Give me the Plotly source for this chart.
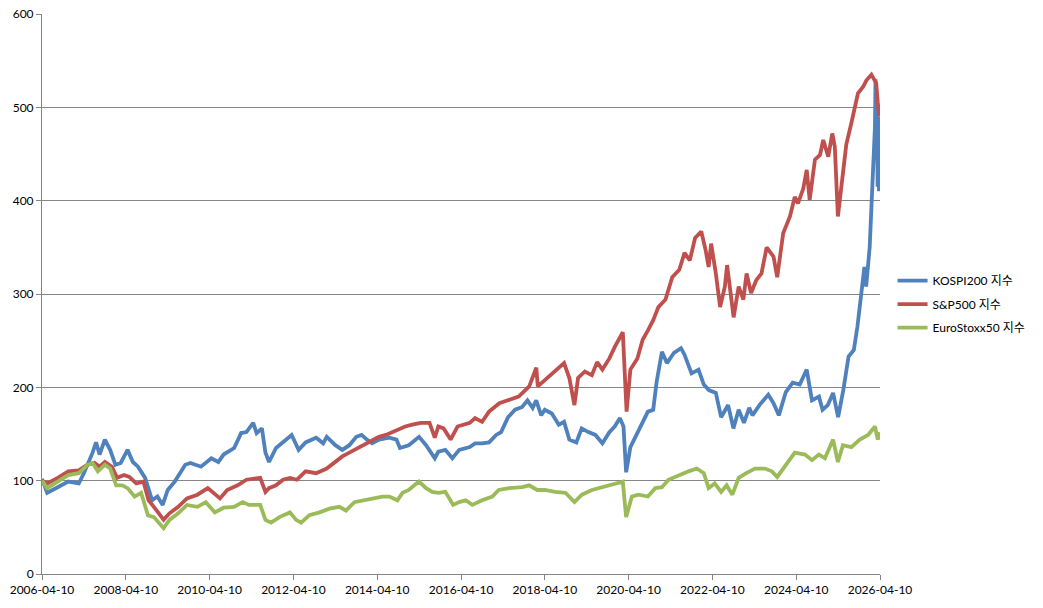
import plotly.graph_objects as go

kospi_dates = ["2006-04-10","2006-05-25","2006-08-25","2006-11-25","2007-02-25","2007-04-10","2007-06-25","2007-07-25","2007-08-25","2007-10-10","2007-11-25","2008-01-10","2008-02-25","2008-04-25","2008-06-10","2008-07-25","2008-09-25","2008-11-10","2008-11-25","2009-01-10","2009-02-25","2009-04-10","2009-06-10","2009-09-10","2009-10-25","2010-01-25","2010-04-25","2010-06-25","2010-08-10","2010-11-10","2011-01-10","2011-02-25","2011-04-25","2011-05-25","2011-07-10","2011-08-10","2011-09-10","2011-11-10","2012-01-10","2012-03-25","2012-05-25","2012-07-25","2012-10-25","2012-12-25","2013-01-25","2013-04-10","2013-06-10","2013-08-10","2013-10-10","2013-11-25","2014-01-10","2014-02-25","2014-04-25","2014-07-25","2014-09-25","2014-10-25","2015-01-10","2015-04-10","2015-06-10","2015-08-25","2015-09-25","2015-11-25","2016-01-25","2016-03-25","2016-06-25","2016-08-10","2016-10-10","2016-12-10","2017-02-10","2017-03-25","2017-05-25","2017-07-25","2017-09-25","2017-11-10","2017-12-25","2018-01-25","2018-03-10","2018-04-10","2018-06-10","2018-08-10","2018-09-25","2018-11-10","2019-01-10","2019-02-25","2019-04-25","2019-06-25","2019-08-25","2019-10-25","2019-12-10","2020-01-25","2020-02-25","2020-03-19","2020-04-25","2020-06-25","2020-08-10","2020-09-25","2020-11-10","2020-12-10","2021-01-25","2021-03-10","2021-05-10","2021-07-10","2021-08-10","2021-10-10","2021-12-10","2022-01-25","2022-03-10","2022-05-10","2022-06-25","2022-08-25","2022-10-10","2022-11-25","2023-01-10","2023-02-25","2023-03-25","2023-05-25","2023-08-10","2023-09-25","2023-11-10","2024-01-10","2024-03-10","2024-05-10","2024-07-10","2024-08-25","2024-10-25","2024-11-25","2025-01-10","2025-02-25","2025-04-10","2025-05-25","2025-07-10","2025-08-25","2025-09-25","2025-10-25","2025-11-25","2025-12-10","2026-01-10","2026-01-28","2026-02-25","2026-03-02","2026-03-08","2026-03-14","2026-03-20","2026-03-26","2026-04-01","2026-04-06"]
kospi_vals = [102,87,93,99,97,108,130,141,128,144,133,117,119,133,120,115,103,83,79,83,74,90,99,117,119,115,124,120,128,135,151,152,162,151,156,130,120,135,141,149,133,141,146,140,147,138,133,138,147,149,144,140,144,146,144,135,138,147,138,124,131,133,124,133,136,140,140,141,149,152,168,176,179,186,178,186,170,176,172,160,163,144,141,156,152,149,140,152,158,167,158,109,136,152,162,174,176,206,238,226,237,242,235,215,219,203,197,194,168,181,156,176,162,178,170,181,192,183,170,195,205,203,219,186,190,176,181,194,168,197,233,240,265,301,329,308,350,401,479,530,450,510,415,490,410,470]

sp500_dates = ["2006-04-10","2006-05-25","2006-08-25","2006-11-25","2007-02-25","2007-05-10","2007-07-10","2007-08-25","2007-10-10","2007-12-10","2008-01-25","2008-03-25","2008-05-10","2008-07-10","2008-09-10","2008-10-25","2008-12-10","2009-03-05","2009-04-25","2009-07-10","2009-09-25","2009-12-25","2010-03-25","2010-05-25","2010-07-10","2010-09-10","2010-12-10","2011-02-25","2011-06-25","2011-08-10","2011-09-10","2011-11-10","2012-01-10","2012-03-10","2012-05-10","2012-07-25","2012-10-25","2013-01-25","2013-04-10","2013-06-10","2013-08-10","2013-11-10","2014-01-10","2014-02-25","2014-04-25","2014-06-25","2014-08-25","2014-10-25","2014-12-10","2015-02-10","2015-04-25","2015-07-10","2015-08-25","2015-09-25","2015-11-10","2016-01-10","2016-03-10","2016-06-25","2016-08-10","2016-10-10","2016-12-10","2017-03-10","2017-05-25","2017-08-25","2017-11-25","2018-01-26","2018-02-08","2018-03-25","2018-05-10","2018-07-10","2018-09-25","2018-11-10","2018-12-24","2019-01-25","2019-03-25","2019-05-25","2019-07-10","2019-08-25","2019-10-25","2019-12-10","2020-02-19","2020-03-23","2020-04-25","2020-06-25","2020-08-10","2020-09-25","2020-11-10","2020-12-25","2021-02-25","2021-04-25","2021-06-25","2021-08-10","2021-09-25","2021-11-10","2022-01-03","2022-02-10","2022-03-08","2022-03-30","2022-05-10","2022-06-16","2022-07-28","2022-08-16","2022-10-12","2022-11-25","2023-01-05","2023-02-02","2023-03-13","2023-04-28","2023-06-12","2023-07-27","2023-09-25","2023-10-27","2023-12-18","2024-02-15","2024-03-28","2024-04-25","2024-06-10","2024-07-10","2024-08-05","2024-09-20","2024-11-03","2024-12-01","2025-01-14","2025-02-18","2025-03-12","2025-04-08","2025-05-22","2025-06-20","2025-08-03","2025-09-30","2025-11-14","2025-12-13","2026-01-25","2026-03-08","2026-03-22","2026-04-04"]
sp500_vals = [100,97,103,110,111,117,119,115,120,115,103,106,104,97,99,79,72,58,65,72,81,85,92,85,81,90,95,101,103,88,92,95,101,103,101,110,108,113,120,126,130,136,140,144,147,149,152,156,158,160,162,162,146,158,156,144,158,162,167,163,174,183,186,190,201,221,201,206,210,217,226,210,181,210,217,213,227,219,231,243,259,174,219,231,251,261,272,286,294,318,326,344,336,360,367,347,329,354,322,286,308,331,275,308,294,322,301,315,322,350,340,318,365,383,404,397,413,433,401,444,449,465,447,472,458,383,433,460,483,515,522,529,535,526,505,490]

euro_dates = ["2006-04-10","2006-05-25","2006-08-25","2006-11-25","2007-02-25","2007-05-10","2007-06-25","2007-08-10","2007-10-10","2007-11-25","2008-01-17","2008-03-10","2008-04-25","2008-06-25","2008-08-21","2008-10-19","2008-12-10","2009-03-05","2009-04-25","2009-07-10","2009-09-25","2009-12-25","2010-03-08","2010-05-25","2010-08-10","2010-11-10","2011-01-23","2011-03-20","2011-06-25","2011-08-10","2011-09-28","2011-12-10","2012-03-10","2012-05-03","2012-06-16","2012-08-27","2012-11-22","2013-02-18","2013-05-14","2013-07-12","2013-09-23","2013-12-03","2014-02-25","2014-05-25","2014-07-25","2014-10-03","2014-11-17","2015-01-10","2015-02-27","2015-04-10","2015-06-10","2015-08-03","2015-09-25","2015-11-25","2016-02-01","2016-03-25","2016-05-20","2016-07-17","2016-10-10","2017-01-08","2017-03-04","2017-06-01","2017-09-25","2017-11-25","2018-02-03","2018-04-10","2018-07-10","2018-10-07","2018-12-24","2019-02-28","2019-05-25","2019-08-25","2019-11-16","2020-02-19","2020-03-19","2020-05-08","2020-07-05","2020-09-25","2020-11-28","2021-01-25","2021-03-23","2021-06-25","2021-09-14","2021-11-25","2022-01-25","2022-03-08","2022-04-30","2022-06-25","2022-08-12","2022-10-01","2022-11-25","2023-01-30","2023-04-16","2023-07-12","2023-09-10","2023-10-27","2024-01-10","2024-03-28","2024-06-25","2024-08-25","2024-10-25","2024-12-16","2025-02-25","2025-04-08","2025-05-22","2025-08-03","2025-10-16","2025-12-27","2026-02-25","2026-03-22","2026-04-04"]
euro_vals = [100,92,99,106,108,117,119,110,117,113,95,95,92,83,87,63,61,49,58,65,74,72,77,66,71,72,77,74,74,58,55,61,66,58,55,63,66,70,72,68,77,79,81,83,83,79,87,90,95,99,92,88,87,88,74,77,79,74,79,83,90,92,93,95,90,90,88,87,77,85,90,93,95,99,61,83,85,83,92,93,101,106,110,113,108,92,97,88,95,85,103,108,113,113,110,104,117,130,128,122,128,124,144,120,138,136,144,149,158,144,152]

series_names = ["KOSPI200 지수", "S&P500 지수", "EuroStoxx50 지수"]
series_colors = ["#4F81BD", "#C0504D", "#9BBB59"]

y_ticks = [0, 100, 200, 300, 400, 500, 600]
x_ticks = ["2006-04-10","2008-04-10","2010-04-10","2012-04-10","2014-04-10","2016-04-10","2018-04-10","2020-04-10","2022-04-10","2024-04-10","2026-04-10"]

font_family = "Lato, 'Noto Sans CJK KR', sans-serif"

fig = go.Figure()
for i, (d, v) in enumerate([(kospi_dates, kospi_vals), (sp500_dates, sp500_vals), (euro_dates, euro_vals)]):
    fig.add_trace(go.Scatter(x=d, y=v, name=series_names[i], mode="lines",
                             legendgroup=f"g{i}",
                             line=dict(color=series_colors[i], width=3.8), hoverinfo="skip"))

fig.update_layout(
    width=1043, height=608,
    margin=dict(l=42, r=161, t=14, b=34),
    paper_bgcolor="white", plot_bgcolor="white",
    font=dict(family=font_family, size=12, color="#000000"),
    showlegend=True,
    legend=dict(x=1.015, y=0.482, xanchor="left", yanchor="middle",
                font=dict(family=font_family, size=12, color="#000000"),
                itemwidth=30, bgcolor="rgba(0,0,0,0)", tracegroupgap=4.5),
    hovermode=False,
)
fig.update_xaxes(type="date", range=["2006-04-10", "2026-04-10"],
                 tickmode="array", tickvals=x_ticks, ticktext=x_ticks,
                 showgrid=False, showline=True, linecolor="#868686", linewidth=1,
                 ticks="outside", ticklen=5, tickcolor="#868686", automargin=False,
                 tickfont=dict(size=12, color="#000000"), zeroline=False)
fig.update_yaxes(range=[0, 600], tickmode="array", tickvals=y_ticks,
                 showgrid=True, gridcolor="#868686", gridwidth=1,
                 showline=True, linecolor="#868686", linewidth=1, automargin=False,
                 ticks="outside", ticklen=5, tickcolor="#868686",
                 tickfont=dict(size=12, color="#000000"), zeroline=False)

fig.write_html("out.html", config={"displayModeBar": False},
               post_script="document.body.style.margin='0';document.body.style.overflow='hidden';")
